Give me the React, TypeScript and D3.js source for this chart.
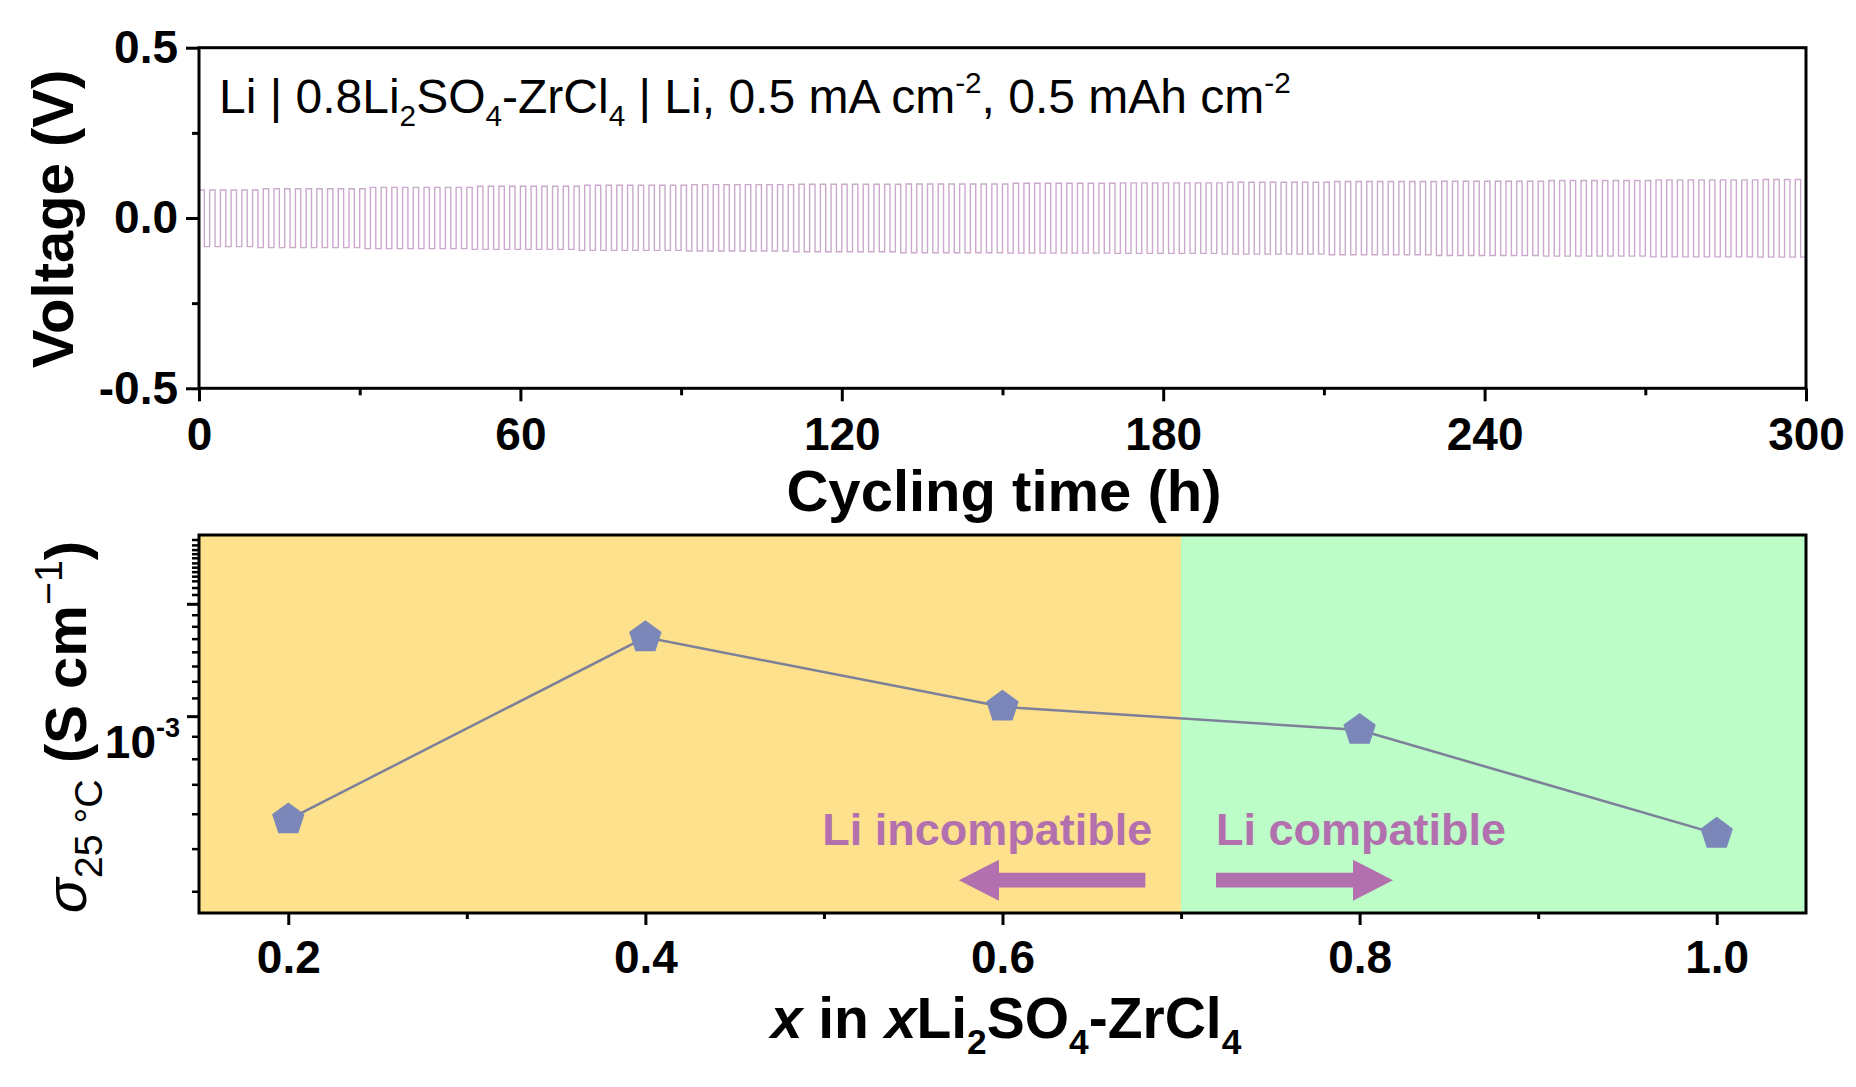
import { useEffect, useRef } from "react";
import * as d3 from "d3";

// Li | 0.8Li2SO4-ZrCl4 | Li cycling: overpotential envelope every 20 h
const cycleTimes = [0, 20, 40, 60, 80, 100, 120, 140, 160, 180, 200, 220, 240, 260, 280, 300];
const upperVoltage = [0.082, 0.086, 0.09, 0.093, 0.096, 0.098, 0.099, 0.1, 0.102, 0.103, 0.105, 0.107, 0.108, 0.11, 0.112, 0.113];
const lowerVoltage = [-0.084, -0.087, -0.09, -0.092, -0.095, -0.097, -0.099, -0.102, -0.103, -0.104, -0.106, -0.108, -0.11, -0.112, -0.114, -0.115];
const halfCycleHours = 1; // 0.5 mAh cm-2 at 0.5 mA cm-2
const totalHours = 300;

const timeTicks = [0, 60, 120, 180, 240, 300];
const timeMinorTicks = [30, 90, 150, 210, 270];
const voltageTicks = [-0.5, 0, 0.5];
const voltageMinorTicks = [-0.25, 0.25];

// conductivity vs composition
const compositions = [0.2, 0.4, 0.6, 0.8, 1.0];
const conductivity = [5.82e-4, 1.51e-3, 1.05e-3, 9.3e-4, 5.4e-4];
const compositionTicks = [0.2, 0.4, 0.6, 0.8, 1.0];
const compositionMinorTicks = [0.3, 0.5, 0.7, 0.9];
const sigmaMajorTicks = [1e-3];
const sigmaLongTicks = [1.8e-3];
const sigmaMinorTicks = [
  4e-4, 5e-4, 6e-4, 7e-4, 8e-4, 9e-4,
  1.1e-3, 1.2e-3, 1.3e-3, 1.4e-3, 1.5e-3, 1.6e-3, 1.7e-3,
  1.89e-3, 1.96e-3, 2.03e-3, 2.08e-3, 2.13e-3, 2.18e-3, 2.23e-3, 2.29e-3, 2.34e-3, 2.39e-3, 2.45e-3, 2.52e-3,
];
const compatibilityBoundary = 0.7;

// annotation anchors (data coordinates)
const arrowLevel = 4.24e-4;
const incompatibleArrow = [0.68, 0.5756];
const compatibleArrow = [0.7196, 0.8187];
const labelLevel = 5.1e-4;
const incompatibleLabelX = 0.499;
const compatibleLabelX = 0.7196;

const FONT = "Arial, 'Liberation Sans', sans-serif";
const PURPLE = "#b270ae";

type Part = { t: string; k?: "sub" | "sup"; i?: boolean; w?: string };

function richText(sel: any, parts: Part[], size: number, small = 0.62) {
  let shift = 0;
  parts.forEach((p) => {
    const target = p.k === "sub" ? size * 0.28 : p.k === "sup" ? -size * 0.42 : 0;
    sel
      .append("tspan")
      .attr("dy", target - shift)
      .attr("font-size", p.k ? size * small : size)
      .attr("font-style", p.i ? "italic" : null)
      .attr("font-weight", p.w ?? null)
      .text(p.t);
    shift = target;
  });
}

// regular pentagon, point up
const symbolPentagon = {
  draw(context: any, size: number) {
    const r = Math.sqrt(size / 2.3776);
    for (let k = 0; k < 5; k++) {
      const a = -Math.PI / 2 + (k * 2 * Math.PI) / 5;
      const px = r * Math.cos(a);
      const py = r * Math.sin(a);
      if (k === 0) context.moveTo(px, py);
      else context.lineTo(px, py);
    }
    context.closePath();
  },
};

function styleAxis(g: any, labels: boolean) {
  g.attr("font-family", FONT).attr("font-size", 46).attr("font-weight", "bold");
  g.select(".domain").remove();
  g.selectAll(".tick line").attr("stroke", "#000").attr("stroke-width", 3);
  if (labels) g.selectAll(".tick text").attr("fill", "#000");
}

export default function App() {
  const svgRef = useRef<SVGSVGElement>(null);

  useEffect(() => {
    if (!svgRef.current) return;
    const svg = d3.select(svgRef.current);
    svg.selectAll("*").remove();
    svg.attr("font-family", FONT);

    // ---------------- top panel: voltage profile ----------------
    const xTop = d3.scaleLinear().domain([0, totalHours]).range([199, 1806]);
    const yTop = d3.scaleLinear().domain([-0.5, 0.5]).range([388.3, 47.7]);

    const wave = d3.range(0, totalHours, halfCycleHours).map((t, i) => {
      const idx = d3.leastIndex(cycleTimes, (c) => Math.abs(c - t)) ?? 0;
      return { t, v: i % 2 === 0 ? upperVoltage[idx] : lowerVoltage[idx] };
    });
    wave.push({ t: totalHours, v: wave[wave.length - 1].v });

    svg
      .append("clipPath")
      .attr("id", "clipTop")
      .append("rect")
      .attr("x", xTop(0))
      .attr("y", yTop(0.5))
      .attr("width", xTop(totalHours) - xTop(0))
      .attr("height", yTop(-0.5) - yTop(0.5));

    const line = d3
      .line<{ t: number; v: number }>()
      .x((d) => xTop(d.t))
      .y((d) => yTop(d.v))
      .curve(d3.curveStepAfter);

    svg
      .append("path")
      .datum(wave)
      .attr("clip-path", "url(#clipTop)")
      .attr("fill", "none")
      .attr("stroke", "#caa9cd")
      .attr("stroke-width", 1.4)
      .attr("d", line);

    const topText = svg
      .append("text")
      .attr("x", 219)
      .attr("y", 113)
      .attr("font-size", 48)
      .attr("fill", "#000")
      .style("white-space", "pre");
    richText(topText, [
      { t: "Li | 0.8Li" },
      { t: "2", k: "sub" },
      { t: "SO" },
      { t: "4", k: "sub" },
      { t: "-ZrCl" },
      { t: "4", k: "sub" },
      { t: " | Li, 0.5 mA cm" },
      { t: "-2", k: "sup" },
      { t: ", 0.5 mAh cm" },
      { t: "-2", k: "sup" },
    ], 48);

    svg
      .append("rect")
      .attr("x", xTop(0))
      .attr("y", yTop(0.5))
      .attr("width", xTop(totalHours) - xTop(0))
      .attr("height", yTop(-0.5) - yTop(0.5))
      .attr("fill", "none")
      .attr("stroke", "#000")
      .attr("stroke-width", 3);

    const gxTop = svg.append("g").attr("transform", `translate(0,${yTop(-0.5)})`);
    gxTop.call(d3.axisBottom(xTop).tickValues(timeTicks).tickSize(13).tickSizeOuter(0).tickPadding(16));
    styleAxis(gxTop, true);
    const gxTopMinor = svg.append("g").attr("transform", `translate(0,${yTop(-0.5)})`);
    gxTopMinor.call(d3.axisBottom(xTop).tickValues(timeMinorTicks).tickSize(7).tickSizeOuter(0).tickFormat(() => ""));
    styleAxis(gxTopMinor, false);

    const gyTop = svg.append("g").attr("transform", `translate(${xTop(0)},0)`);
    gyTop.call(
      d3.axisLeft(yTop).tickValues(voltageTicks).tickSize(13).tickSizeOuter(0).tickPadding(8)
        .tickFormat((d) => (+d).toFixed(1))
    );
    styleAxis(gyTop, true);
    const gyTopMinor = svg.append("g").attr("transform", `translate(${xTop(0)},0)`);
    gyTopMinor.call(d3.axisLeft(yTop).tickValues(voltageMinorTicks).tickSize(7).tickSizeOuter(0).tickFormat(() => ""));
    styleAxis(gyTopMinor, false);

    svg
      .append("text")
      .attr("transform", "translate(73,219) rotate(-90)")
      .attr("text-anchor", "middle")
      .attr("font-size", 58)
      .attr("font-weight", "bold")
      .text("Voltage (V)");

    svg
      .append("text")
      .attr("x", 1004)
      .attr("y", 511)
      .attr("text-anchor", "middle")
      .attr("font-size", 58)
      .attr("font-weight", "bold")
      .text("Cycling time (h)");

    // ---------------- bottom panel: conductivity ----------------
    const xBot = d3.scaleLinear().domain([0.15, 1.05]).range([199, 1806]);
    const yBot = d3.scaleLog().domain([3.57e-4, 2.58e-3]).range([913, 535]);
    const [yb0, yb1] = [yBot(3.57e-4), yBot(2.58e-3)];

    svg
      .append("rect")
      .attr("x", xBot(0.15))
      .attr("y", yb1)
      .attr("width", xBot(compatibilityBoundary) - xBot(0.15))
      .attr("height", yb0 - yb1)
      .attr("fill", "#fde18c");
    svg
      .append("rect")
      .attr("x", xBot(compatibilityBoundary))
      .attr("y", yb1)
      .attr("width", xBot(1.05) - xBot(compatibilityBoundary))
      .attr("height", yb0 - yb1)
      .attr("fill", "#bcfdc8");

    const points = compositions.map((x, i) => ({ x, s: conductivity[i] }));
    svg
      .append("path")
      .datum(points)
      .attr("fill", "none")
      .attr("stroke", "#7c8199")
      .attr("stroke-width", 2.5)
      .attr(
        "d",
        d3
          .line<{ x: number; s: number }>()
          .x((d) => xBot(d.x))
          .y((d) => yBot(d.s))
      );

    svg
      .selectAll(".pent")
      .data(points)
      .enter()
      .append("path")
      .attr("class", "pent")
      .attr("transform", (d) => `translate(${xBot(d.x)},${yBot(d.s)})`)
      .attr("fill", "#7b87b9")
      .attr("d", d3.symbol().type(symbolPentagon as any).size(690)() as string);

    const arrowPath = (from: number, to: number) => {
      const x0 = xBot(from);
      const x1 = xBot(to);
      const yc = yBot(arrowLevel);
      const s = Math.sign(x1 - x0);
      const hb = x1 - s * 40;
      return d3.line()([
        [x0, yc - 7.3],
        [hb, yc - 7.3],
        [hb, yc - 20.5],
        [x1, yc],
        [hb, yc + 20.5],
        [hb, yc + 7.3],
        [x0, yc + 7.3],
      ]) + "Z";
    };
    svg.append("path").attr("d", arrowPath(incompatibleArrow[0], incompatibleArrow[1])).attr("fill", PURPLE);
    svg.append("path").attr("d", arrowPath(compatibleArrow[0], compatibleArrow[1])).attr("fill", PURPLE);

    svg
      .append("text")
      .attr("x", xBot(incompatibleLabelX))
      .attr("y", yBot(labelLevel))
      .attr("font-size", 45)
      .attr("font-weight", "bold")
      .attr("fill", PURPLE)
      .text("Li incompatible");
    svg
      .append("text")
      .attr("x", xBot(compatibleLabelX))
      .attr("y", yBot(labelLevel))
      .attr("font-size", 45)
      .attr("font-weight", "bold")
      .attr("fill", PURPLE)
      .text("Li compatible");

    svg
      .append("rect")
      .attr("x", xBot(0.15))
      .attr("y", yb1)
      .attr("width", xBot(1.05) - xBot(0.15))
      .attr("height", yb0 - yb1)
      .attr("fill", "none")
      .attr("stroke", "#000")
      .attr("stroke-width", 3);

    const gxBot = svg.append("g").attr("transform", `translate(0,${yb0})`);
    gxBot.call(
      d3.axisBottom(xBot).tickValues(compositionTicks).tickSize(12).tickSizeOuter(0).tickPadding(15)
        .tickFormat(d3.format(".1f"))
    );
    styleAxis(gxBot, true);
    const gxBotMinor = svg.append("g").attr("transform", `translate(0,${yb0})`);
    gxBotMinor.call(d3.axisBottom(xBot).tickValues(compositionMinorTicks).tickSize(6).tickSizeOuter(0).tickFormat(() => ""));
    styleAxis(gxBotMinor, false);

    const gyBot = svg.append("g").attr("transform", `translate(${xBot(0.15)},0)`);
    gyBot.call(d3.axisLeft(yBot).tickValues([...sigmaMajorTicks, ...sigmaLongTicks]).tickSize(12).tickSizeOuter(0).tickFormat(() => ""));
    styleAxis(gyBot, false);
    const gyBotMinor = svg.append("g").attr("transform", `translate(${xBot(0.15)},0)`);
    gyBotMinor.call(d3.axisLeft(yBot).tickValues(sigmaMinorTicks).tickSize(7).tickSizeOuter(0).tickFormat(() => ""));
    styleAxis(gyBotMinor, false);
    gyBotMinor.selectAll(".tick line").attr("stroke-width", 2.5);

    sigmaMajorTicks.forEach((v) => {
      const t = svg
        .append("text")
        .attr("x", 180)
        .attr("y", yBot(v) + 42)
        .attr("text-anchor", "end")
        .attr("font-size", 46)
        .attr("font-weight", "bold");
      t.append("tspan").text("10");
      t.append("tspan").attr("dy", -21).attr("font-size", 27).text(String(Math.round(Math.log10(v))));
    });

    const yTitle = svg
      .append("text")
      .attr("transform", `translate(86,${(yb0 + yb1) / 2 + 3}) rotate(-90)`)
      .attr("text-anchor", "middle")
      .attr("font-size", 58)
      .style("white-space", "pre");
    richText(yTitle, [
      { t: "σ", i: true },
      { t: "25 °C", k: "sub" },
      { t: " (S cm", w: "bold" },
      { t: "−1", k: "sup" },
      { t: ")", w: "bold" },
    ], 58, 0.68);

    const xTitle = svg
      .append("text")
      .attr("x", 1006)
      .attr("y", 1038)
      .attr("text-anchor", "middle")
      .attr("font-size", 57)
      .attr("font-weight", "bold")
      .style("white-space", "pre");
    richText(xTitle, [
      { t: "x", i: true },
      { t: " in " },
      { t: "x", i: true },
      { t: "Li" },
      { t: "2", k: "sub" },
      { t: "SO" },
      { t: "4", k: "sub" },
      { t: "-ZrCl" },
      { t: "4", k: "sub" },
    ], 57);
  }, []);

  return (
    <svg
      ref={svgRef}
      width={1856}
      height={1087}
      style={{ position: "absolute", left: 0, top: 0, background: "#fff", display: "block" }}
    />
  );
}
